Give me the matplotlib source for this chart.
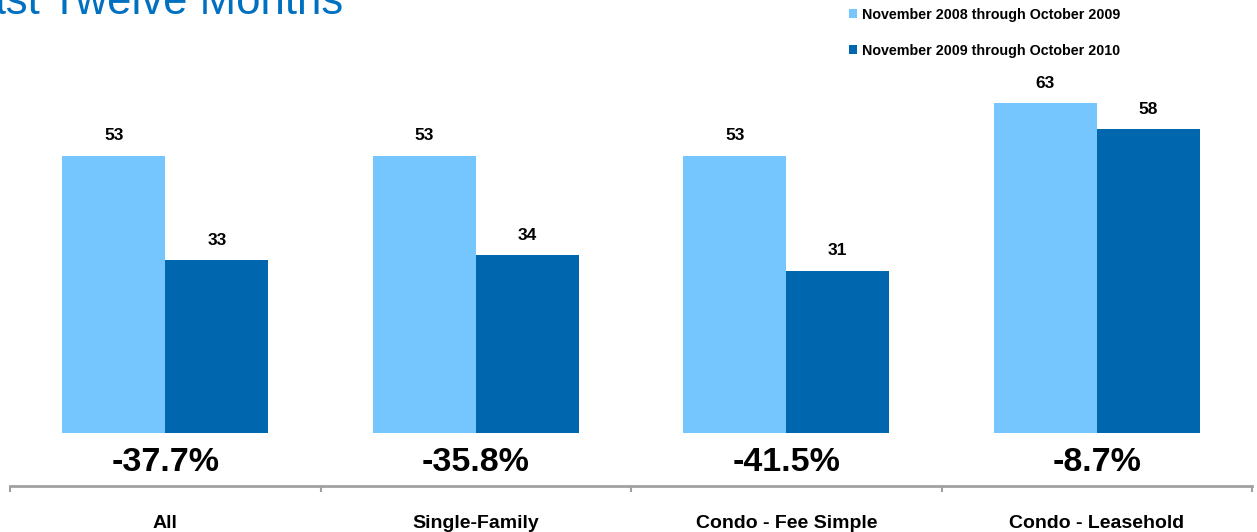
import matplotlib
matplotlib.use("Agg")
import matplotlib.pyplot as plt
from matplotlib import font_manager as fm
import numpy as np

categories = ["All", "Single-Family", "Condo - Fee Simple", "Condo - Leasehold"]
series_names = ["November 2008 through October 2009", "November 2009 through October 2010"]
values_2009 = [53, 53, 53, 63]
values_2010 = [33, 34, 31, 58]
pct_change = ["-37.7%", "-35.8%", "-41.5%", "-8.7%"]
title = "Last Twelve Months"

LIGHT = "#75C5FE"
DARK = "#0067AF"
TITLE_C = "#0070C0"
GRAY = "#A0A0A0"

names = {f.name for f in fm.fontManager.ttflist}
narrow = "Liberation Sans Narrow" if "Liberation Sans Narrow" in names else None
plt.rcParams['font.family'] = ['Liberation Sans', 'DejaVu Sans']

W, H = 1257, 532
fig = plt.figure(figsize=(W / 100, H / 100), dpi=100)
ax_left, ax_right, ax_top, ax_bot = 10, 1252, 60, 486
ax = fig.add_axes([ax_left / W, (H - ax_bot) / H, (ax_right - ax_left) / W, (ax_bot - ax_top) / H])

ppu = 5.235
zero_px = 433
ymin = -(ax_bot - zero_px) / ppu
ymax = (zero_px - ax_top) / ppu
ax.set_ylim(ymin, ymax)
ax.set_xlim(-0.5, len(categories) - 0.5)

x = np.arange(len(categories))
bw = 0.332
b1 = ax.bar(x - bw / 2, values_2009, bw, color=LIGHT, label=series_names[0])
b2 = ax.bar(x + bw / 2, values_2010, bw, color=DARK, label=series_names[1])

for xi, v in zip(x - bw / 2, values_2009):
    ax.text(xi, v + 15.5 / ppu, f"{v}", ha='center', va='baseline', fontsize=12.5, fontweight='bold', color='black')
for xi, v in zip(x + bw / 2, values_2010):
    ax.text(xi, v + 15.5 / ppu, f"{v}", ha='center', va='baseline', fontsize=12.5, fontweight='bold', color='black')

if narrow:
    pct_font = dict(family=[narrow, 'DejaVu Sans'], fontsize=28)
else:
    pct_font = dict(fontsize=24.5)
for xi, p in zip(x, pct_change):
    ax.text(xi, -(471 - zero_px) / ppu, p, ha='center', va='baseline',
            fontweight='bold', color='black', **pct_font)

for s in ['top', 'right', 'left']:
    ax.spines[s].set_visible(False)
ax.spines['bottom'].set_color(GRAY)
ax.spines['bottom'].set_linewidth(2.0)
ax.set_yticks([])
ax.set_xticks(x)
ax.set_xticklabels(categories, fontsize=14, fontweight='bold')
ax.tick_params(axis='x', which='major', length=0, pad=21)
ax.set_xticks(np.arange(-0.5, len(categories), 1.0), minor=True)
ax.tick_params(axis='x', which='minor', length=4, width=1.5, color=GRAY, direction='out')

fig.text(343 / W, 1 - 14 / H, title, ha='right', va='baseline', fontsize=31.5, color=TITLE_C)

leg = fig.legend(handles=[b1, b2], labels=series_names, loc='upper left',
                 bbox_to_anchor=(843 / W, 1 - 2 / H), frameon=False,
                 prop={'weight': 'bold', 'size': 10.3}, handlelength=0.6, handleheight=0.6,
                 handletextpad=0.3, labelspacing=1.55, borderaxespad=0)

fig.savefig("out.png", dpi=100)
